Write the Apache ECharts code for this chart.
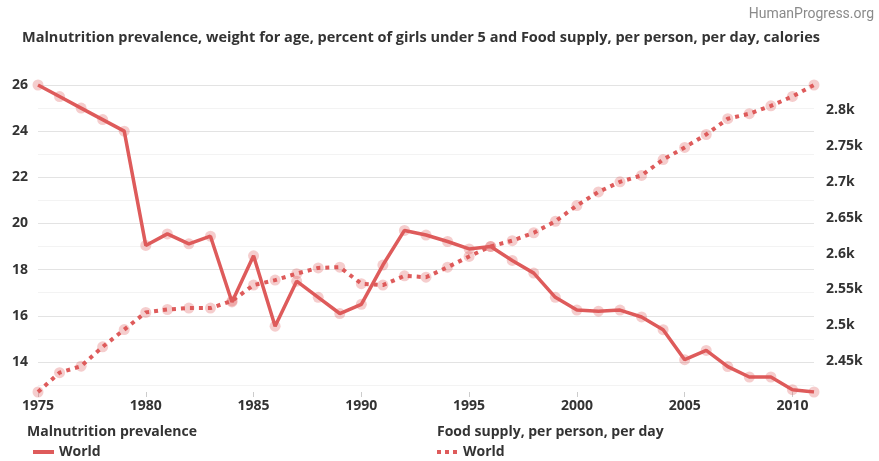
<!DOCTYPE html>
<html>
<head>
<meta charset="utf-8">
<script src="https://cdn.jsdelivr.net/npm/echarts@6/dist/echarts.min.js"></script>
<style>
html, body { margin: 0; padding: 0; background: #fff; }
#chart { width: 879px; height: 461px; }
</style>
</head>
<body>
<div id="chart"></div>
<script>
'use strict';

// data
const years = [];
for (let y = 1975; y <= 2011; y++) years.push(String(y));

const malnutrition = [
    26, 25.5, 25.0, 24.5, 24.0, 19.05, 19.55, 19.12, 19.45, 16.6,
    18.6, 15.55, 17.5, 16.8, 16.1, 16.5, 18.2, 19.7, 19.5, 19.22,
    18.9, 19.0, 18.4, 17.85, 16.8, 16.25, 16.2, 16.25, 15.95, 15.4,
    14.1, 14.5, 13.8, 13.35, 13.35, 12.8, 12.7
];

const foodSupply = [
    2407, 2434, 2443, 2470, 2494, 2518, 2522, 2524, 2524, 2534,
    2556, 2563, 2572, 2580, 2581, 2558, 2556, 2569, 2567, 2581,
    2596, 2610, 2618, 2629, 2645, 2667, 2686, 2700, 2709, 2731,
    2748, 2766, 2788, 2795, 2806, 2819, 2835
];

const nameMal = 'Malnutrition prevalence';
const nameFood = 'Food supply, per person, per day';

const lineColor = '#de5b5b';
const dotColor = 'rgba(222, 91, 91, 0.3)';
const font = '"Open Sans", sans-serif';
const boldText = { fontFamily: font, fontWeight: 'bold', fontSize: 14, color: '#333' };

const chart = echarts.init(document.getElementById('chart'));

const malMin = Math.min(...malnutrition);
const malMax = Math.max(...malnutrition);

const option = {
    animation: false,
    title: [{
        text: 'HumanProgress.org',
        right: 0,
        top: 2,
        textStyle: { fontFamily: 'Roboto', fontWeight: 'normal', fontSize: 14, color: '#8a8a8a' }
    }, {
        text: 'Malnutrition prevalence, weight for age, percent of girls under 5 and Food supply, per person, per day, calories',
        left: 17,
        top: 25,
        textStyle: { fontFamily: font, fontWeight: 'bold', fontSize: 14.5, color: '#333' }
    }, {
        text: nameMal,
        left: 22,
        top: 420,
        textStyle: boldText
    }, {
        text: nameFood,
        left: 432,
        top: 420,
        textStyle: boldText
    }],
    legend: [{
        data: [nameMal],
        left: 28,
        top: 440,
        icon: 'rect',
        itemWidth: 21,
        itemHeight: 4,
        itemGap: 6,
        itemStyle: { color: lineColor },
        formatter: () => 'World',
        textStyle: boldText
    }, {
        data: [nameFood],
        left: 432,
        top: 440,
        icon: 'path://M0,0h4v4h-4z M8,0h4v4h-4z M16,0h4v4h-4z',
        itemWidth: 22,
        itemHeight: 4,
        itemStyle: { color: lineColor },
        formatter: () => 'World',
        textStyle: boldText
    }],
    grid: {
        left: 38,
        right: 65,
        top: 85,
        bottom: 69
    },
    xAxis: {
        type: 'category',
        boundaryGap: false,
        data: years,
        axisLine: { show: false },
        axisTick: { show: true, interval: 4, length: 5, lineStyle: { color: '#ccc' } },
        axisLabel: Object.assign({ interval: 4, margin: 7 }, boldText),
        splitLine: { show: false }
    },
    yAxis: [{
        type: 'value',
        position: 'left',
        min: malMin,
        max: malMax,
        splitNumber: 7,
        axisLine: { show: false },
        axisTick: { show: false },
        axisLabel: Object.assign({ showMinLabel: false, margin: 10 }, boldText),
        splitLine: { show: true, showMinLine: false, lineStyle: { color: '#e3e3e3', width: 1 } }
    }, {
        type: 'value',
        position: 'right',
        min: Math.min(...foodSupply),
        max: Math.max(...foodSupply),
        splitNumber: 8,
        axisLine: { show: false },
        axisTick: { show: false },
        axisLabel: Object.assign({
            showMinLabel: false,
            showMaxLabel: false,
            margin: 12,
            formatter: v => parseFloat((v / 1000).toFixed(3)) + 'k'
        }, boldText),
        splitLine: { show: false }
    }, {
        // offset axis only for the lighter odd grid lines
        type: 'value',
        position: 'left',
        min: malMin - 1,
        max: malMax - 1,
        splitNumber: 7,
        axisLine: { show: false },
        axisTick: { show: false },
        axisLabel: { show: false },
        splitLine: { show: true, showMinLine: false, showMaxLine: false, lineStyle: { color: '#f3f3f3', width: 1 } }
    }],
    series: [{
        name: nameMal,
        type: 'line',
        yAxisIndex: 0,
        data: malnutrition,
        symbol: 'circle',
        symbolSize: 11,
        itemStyle: { color: dotColor },
        lineStyle: { color: lineColor, width: 3.5 },
        z: 3
    }, {
        name: nameFood,
        type: 'line',
        yAxisIndex: 1,
        data: foodSupply,
        symbol: 'circle',
        symbolSize: 11,
        itemStyle: { color: dotColor },
        lineStyle: { color: lineColor, width: 4, type: [4, 5] },
        z: 2
    }]
};

chart.setOption(option);
</script>
</body>
</html>
